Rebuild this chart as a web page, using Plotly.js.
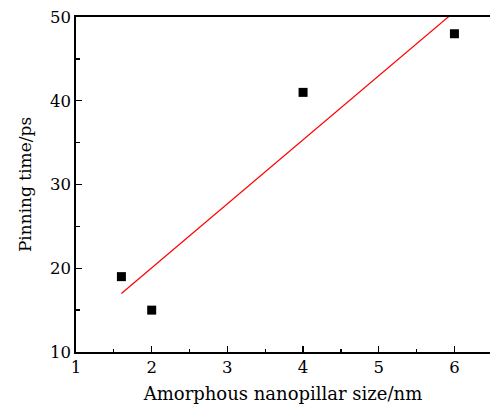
<!DOCTYPE html>
<html><head><meta charset="utf-8">
<script src="https://cdn.plot.ly/plotly-3.0.1.min.js"></script>
<style>html,body{margin:0;padding:0;background:#fff}#chart{width:490px;height:409px}</style>
</head><body><div id="chart"></div>
<script>
const sizes = [1.6, 2, 4, 6];
const pinning = [19, 15, 41, 48];
const xTicks = [1, 2, 3, 4, 5, 6];
const yTicks = [10, 20, 30, 40, 50];

// least-squares fit of the data
const n = sizes.length;
const mx = sizes.reduce((a,b)=>a+b,0)/n;
const my = pinning.reduce((a,b)=>a+b,0)/n;
let sxy=0, sxx=0;
for (let i=0;i<n;i++){ sxy+=(sizes[i]-mx)*(pinning[i]-my); sxx+=(sizes[i]-mx)**2; }
const slope = sxy/sxx, icpt = my - slope*mx;
const fitX = [Math.min(...sizes), Math.max(...sizes)];
const fitY = fitX.map(x=>icpt+slope*x);

const font = 'DejaVu Serif, Liberation Serif, serif';
Plotly.newPlot('chart', [
  {x: fitX, y: fitY, mode:'lines', line:{color:'#ff0000', width:1.2}, hoverinfo:'skip', cliponaxis:true},
  {x: sizes, y: pinning, mode:'markers', marker:{symbol:'square', size:9, color:'#000'}}
], {
  width:490, height:409, showlegend:false,
  margin:{l:76, r:0, t:17, b:57},
  paper_bgcolor:'#fff', plot_bgcolor:'#fff',
  font:{family:font, size:16.5, color:'#000'},
  xaxis:{range:[1,6.47], tickvals:xTicks, ticks:'inside', ticklen:6, tickwidth:1.3, tickcolor:'#000',
    showline:true, linewidth:1.6, linecolor:'#000', mirror:true, showgrid:false, zeroline:false,
    minor:{dtick:0.5, tick0:1, ticks:'inside', ticklen:3.5, tickwidth:1.3, tickcolor:'#000', showgrid:false},
    tickfont:{family:font, size:16.5}, title:{text:'Amorphous nanopillar size/nm', font:{family:font, size:18}, standoff:11}},
  yaxis:{range:[10,50], tickvals:yTicks, ticks:'inside', ticklen:6, tickwidth:1.3, tickcolor:'#000',
    showline:true, linewidth:1.6, linecolor:'#000', showgrid:false, zeroline:false,
    minor:{dtick:5, tick0:10, ticks:'inside', ticklen:3.5, tickwidth:1.3, tickcolor:'#000', showgrid:false},
    tickfont:{family:font, size:16.5}, title:{text:'Pinning time/ps', font:{family:font, size:17}, standoff:14}}
}, {staticPlot:true});
</script></body></html>
